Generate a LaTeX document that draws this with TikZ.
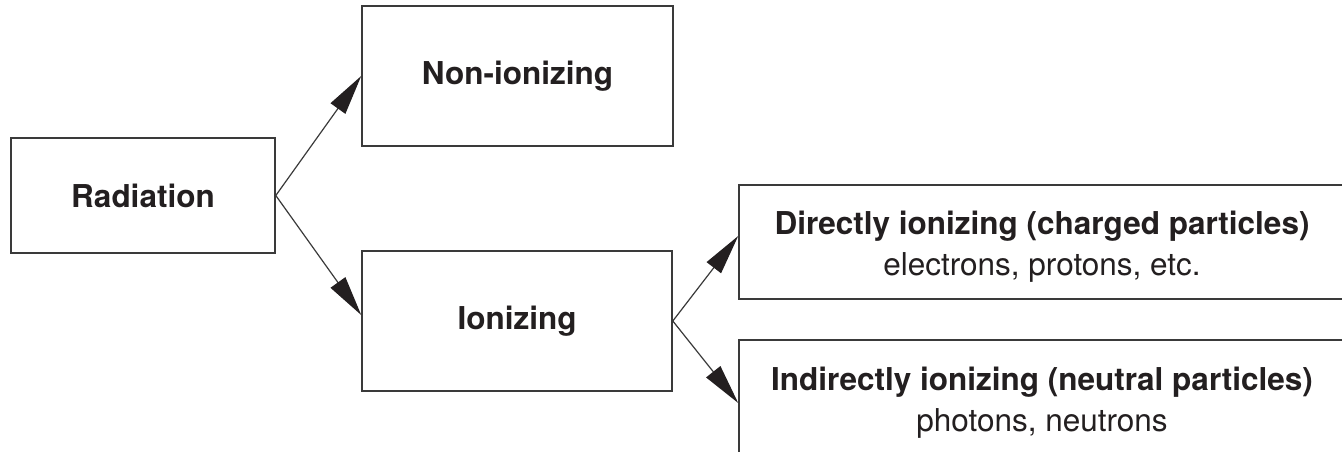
\documentclass[tikz,border=0pt]{standalone}
\usepackage{fontspec}
\setmainfont{TeX Gyre Heros}
\usetikzlibrary{arrows.meta}
\definecolor{ink}{HTML}{231F20}
\definecolor{edge}{HTML}{3A3A3A}
\begin{document}
\begin{tikzpicture}[x=1pt,y=-1pt,
  box/.style={draw=edge, line width=1.6pt, rectangle, inner sep=0pt, align=center,
    text=ink, font=\fontsize{31.5}{41}\selectfont},
  conn/.style={draw=edge, line width=1.2pt, -{Triangle[length=40pt,width=18pt,color=ink]}}]
\clip (0,0) rectangle (1342,452);
\fill[white] (0,0) rectangle (1342,452);
\node[box, minimum width=264pt, minimum height=115pt] (rad) at (143,195.5) {\bfseries Radiation};
\node[box, minimum width=311pt, minimum height=140pt] (non) at (517.5,76) {\bfseries Non-ionizing};
\node[box, minimum width=310pt, minimum height=140pt] (ion) at (517,321) {\bfseries Ionizing};
\node[box, minimum width=606pt, minimum height=114pt] (dir) at (1042,242) {};
\node[text=ink, font=\fontsize{31.5}{41}\selectfont, align=center] (dirtext) at (1042,247) {\bfseries Directly ionizing (charged particles)\\electrons, protons, etc.};
\node[box, minimum width=606pt, minimum height=126pt] (ind) at (1042,403) {\bfseries Indirectly ionizing (neutral particles)\\photons, neutrons};
\draw[conn] (rad.east) -- (non.west);
\draw[conn] (rad.east) -- ([yshift=6pt]ion.west);
\draw[conn] (ion.east) -- ([yshift=6pt]dir.west);
\draw[conn] (ion.east) -- (ind.west);
\end{tikzpicture}
\end{document}
